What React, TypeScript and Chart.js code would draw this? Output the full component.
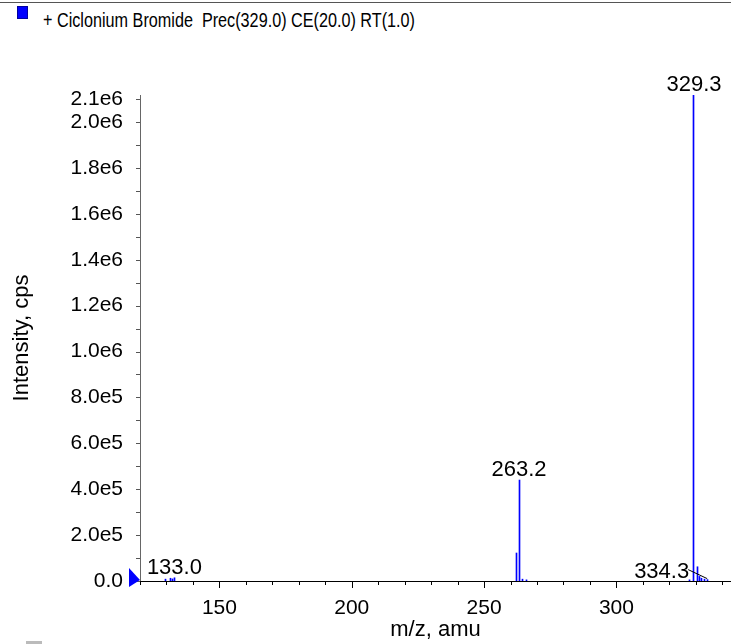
import React, { useEffect, useRef } from "react";
import { Chart, registerables } from "chart.js";

Chart.register(...registerables);

const titleText = "+ Ciclonium Bromide  Prec(329.0) CE(20.0) RT(1.0)";
const xTitle = "m/z, amu";
const yTitle = "Intensity, cps";

const mzValues = [129.8, 131.6, 132.4, 133.0, 262.3, 263.2, 264.5, 266.0, 327.8, 329.3, 330.8, 331.5, 332.3, 333.3, 334.3];
const intensities = [8000, 12000, 9000, 14000, 122000, 440000, 8000, 5000, 5000, 2120000, 62000, 20000, 12000, 8000, 6000];

const peakLabelMz = [133.0, 263.2, 329.3, 334.3];
const peakLabelText = ["133.0", "263.2", "329.3", "334.3"];
const peakLabelHeights = [14000, 440000, 2120000, 6000];
const peakLabelShift = [0, 0, 0, -17.2]; // in m/z units for displaced label with leader line

const xMin = 120;
const xMax = 343.3;
const yMax = 2118000;
const xMajorTicks = [150, 200, 250, 300];
const xMinorStep = 10;
const yLabelTicks = [0, 200000, 400000, 600000, 800000, 1000000, 1200000, 1400000, 1600000, 1800000, 2000000, 2100000];
const yMinorStep = 100000;

const FONT = "'Liberation Sans', Arial, Helvetica, sans-serif";

function fmtY(v: number): string {
  if (v === 0) return "0.0";
  const e = Math.floor(Math.log10(v) + 1e-9);
  const m = v / Math.pow(10, e);
  return m.toFixed(1) + "e" + e;
}

const crispBars = {
  id: "crispBars",
  beforeDatasetsDraw(chart: any) {
    chart.getSortedVisibleDatasetMetas().forEach((meta: any) => {
      meta.data.forEach((el: any) => {
        el.x = Math.round(el.x - 0.5) + 0.5;
      });
    });
  },
};

const decorPlugin = {
  id: "decor",
  afterDraw(chart: any) {
    const ctx = chart.ctx;
    const xs = chart.scales.x;
    const ys = chart.scales.y;
    const area = chart.chartArea;
    ctx.save();
    // x ticks
    ctx.strokeStyle = "#000";
    ctx.lineWidth = 1;
    for (let v = Math.ceil(xMin / xMinorStep) * xMinorStep; v <= xMax; v += xMinorStep) {
      const px = Math.round(xs.getPixelForValue(v)) + 0.5;
      const len = v % 50 === 0 ? 7 : 4;
      ctx.beginPath();
      ctx.moveTo(px, area.bottom);
      ctx.lineTo(px, area.bottom + len);
      ctx.stroke();
    }
    // y ticks
    ctx.strokeStyle = "#555";
    for (let v = 0; v <= yMax + 1; v += yMinorStep) {
      const py = Math.round(ys.getPixelForValue(v)) + 0.5;
      const len = 4;
      ctx.beginPath();
      ctx.moveTo(area.left - len, py);
      ctx.lineTo(area.left, py);
      ctx.stroke();
    }
    // precursor triangle
    const tx = xs.getPixelForValue(xMin);
    const ty = ys.getPixelForValue(0);
    ctx.fillStyle = "#0000ff";
    ctx.beginPath();
    ctx.moveTo(tx - 11, ty - 13);
    ctx.lineTo(tx, ty - 1);
    ctx.lineTo(tx - 11, ty + 6);
    ctx.closePath();
    ctx.fill();
    // peak labels
    ctx.fillStyle = "#000";
    ctx.font = "22px " + FONT;
    ctx.textAlign = "center";
    ctx.textBaseline = "alphabetic";
    for (let i = 0; i < peakLabelMz.length; i++) {
      const px = xs.getPixelForValue(peakLabelMz[i]);
      const py = ys.getPixelForValue(peakLabelHeights[i]);
      if (peakLabelShift[i] !== 0) {
        const lx = xs.getPixelForValue(peakLabelMz[i] + peakLabelShift[i]);
        ctx.fillText(peakLabelText[i], lx, py - 2);
        const w = ctx.measureText(peakLabelText[i]).width;
        ctx.strokeStyle = "#000";
        ctx.beginPath();
        ctx.moveTo(lx + w / 2 - 1, py - 10);
        ctx.lineTo(px, py - 1);
        ctx.stroke();
      } else {
        ctx.fillText(peakLabelText[i], px, py - 4);
      }
    }
    ctx.restore();
  },
};

export default function App() {
  const ref = useRef<HTMLCanvasElement | null>(null);
  useEffect(() => {
    if (!ref.current) return;
    const data = mzValues.map((m, i) => ({ x: m, y: intensities[i] }));
    const chart = new Chart(ref.current, {
      type: "bar",
      data: {
        datasets: [
          {
            data: data as any,
            backgroundColor: "#0000ff",
            borderWidth: 0,
            barThickness: 1,
          } as any,
        ],
      },
      options: {
        animation: false,
        responsive: false,
        maintainAspectRatio: false,
        layout: { padding: { top: 95, right: 0, left: 0, bottom: 0 } },
        plugins: { legend: { display: false }, tooltip: { enabled: false } },
        scales: {
          x: {
            type: "linear",
            min: xMin,
            max: xMax,
            offset: false,
            grid: { display: false, drawTicks: false },
            border: { display: true, color: "#000", width: 1 },
            afterBuildTicks: (s: any) => {
              s.ticks = xMajorTicks.map((v) => ({ value: v }));
            },
            afterFit: (s: any) => {
              s.height = 63;
            },
            ticks: {
              color: "#000",
              font: { family: FONT, size: 21 },
              padding: 15,
              maxRotation: 0,
              autoSkip: false,
              callback: (v: any) => String(v),
            },
            title: {
              display: true,
              text: xTitle,
              color: "#000",
              font: { family: FONT, size: 22 },
              padding: { top: 0, bottom: 1 },
            },
          },
          y: {
            type: "linear",
            min: 0,
            max: yMax,
            grid: { display: false, drawTicks: false },
            border: { display: true, color: "#666", width: 1 },
            afterBuildTicks: (s: any) => {
              s.ticks = yLabelTicks.map((v) => ({ value: v }));
            },
            afterFit: (s: any) => {
              s.width = 140;
            },
            ticks: {
              color: "#000",
              font: { family: FONT, size: 21 },
              padding: 17,
              autoSkip: false,
              callback: (v: any) => fmtY(Number(v)),
            },
            title: {
              display: true,
              text: yTitle,
              color: "#000",
              font: { family: FONT, size: 22 },
              padding: { top: 9, bottom: 0 },
            },
          },
        },
      },
      plugins: [crispBars, decorPlugin],
    });
    return () => chart.destroy();
  }, []);

  return (
    <div style={{ position: "absolute", left: 0, top: 0, width: 731, height: 644, background: "#fff", overflow: "hidden" }}>
      <div style={{ position: "absolute", left: 0, top: 2, width: 731, height: 1, background: "#555" }} />
      <div style={{ position: "absolute", left: 17, top: 6, width: 11, height: 13, background: "#0000ff", border: "1px solid #0000a0", boxSizing: "border-box" }} />
      <div style={{ position: "absolute", left: 43, top: 9, fontFamily: FONT, fontSize: 20, color: "#000", whiteSpace: "pre", transform: "scaleX(0.81)", transformOrigin: "0 0" }}>{titleText}</div>
      <div style={{ position: "absolute", left: 26, top: 641, width: 16, height: 10, background: "#bbb" }} />
      <canvas ref={ref} width={731} height={644} style={{ position: "absolute", left: 0, top: 0, width: 731, height: 644 }} />
    </div>
  );
}
